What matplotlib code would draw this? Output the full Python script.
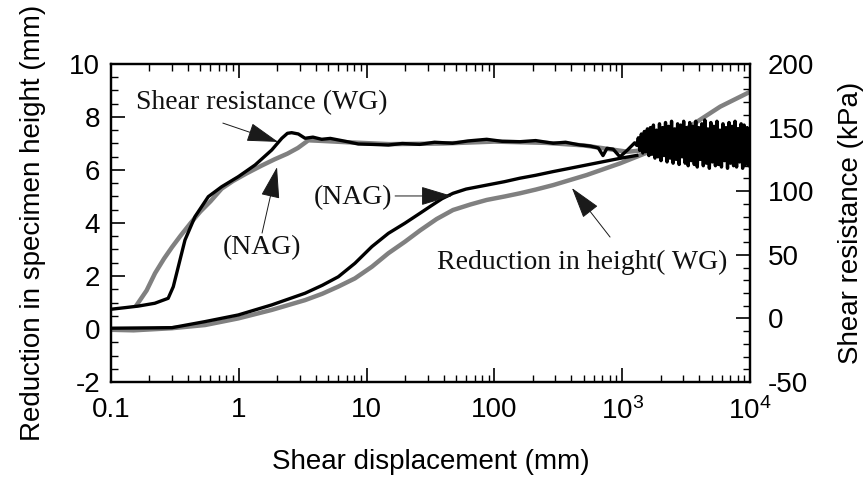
import numpy as np
import matplotlib
matplotlib.use("Agg")
import matplotlib.pyplot as plt
from matplotlib.ticker import FixedLocator, FixedFormatter, MultipleLocator, LogLocator, NullFormatter

plt.rcParams['font.family'] = ['Liberation Sans', 'DejaVu Sans']
plt.rcParams['mathtext.fontset'] = 'custom'
plt.rcParams['mathtext.rm'] = 'Liberation Sans'
plt.rcParams['axes.unicode_minus'] = False

# shear resistance, NAG (black, kPa)
shear_nag_x = [0.1, 0.13, 0.164, 0.22, 0.28, 0.307, 0.336, 0.379, 0.454, 0.577, 0.734, 0.99,
               1.34, 1.81, 2.17, 2.4, 2.59, 2.92, 3.3, 3.8, 4.45, 5.2, 6.0, 7.0, 8.6, 11,
               14.8, 19, 26, 34, 47, 62, 87, 115, 158, 210, 288, 360, 468, 560, 650, 707,
               760, 850, 959, 1100, 1250]
shear_nag_y = [7.2, 8.5, 9.7, 11.9, 15.8, 24.9, 40.6, 61.6, 80, 95.7, 103.5, 111.4,
               120.6, 132.4, 141.6, 145.5, 146, 145, 141.6, 142.5, 140.8, 141.5, 140.3, 139, 137.1, 136.8,
               136.3, 137.5, 136.8, 138.5, 137.7, 139.5, 140.8, 139.2, 138.9, 139.8, 137.7, 138.5, 136.3, 135.5, 134, 128,
               133.7, 133, 127, 132.4, 138]
# noisy tail of the NAG shear resistance
noise_x = [1300, 1336, 1373, 1411, 1450, 1490, 1531, 1573, 1617, 1661,
           1707, 1754, 1803, 1853, 1904, 1956, 2010, 2066, 2123, 2181,
           2242, 2304, 2367, 2432, 2500, 2569, 2640, 2712, 2787, 2864,
           2943, 3025, 3108, 3194, 3282, 3373, 3466, 3561, 3660, 3761,
           3865, 3971, 4081, 4194, 4309, 4428, 4551, 4676, 4805, 4938,
           5075, 5215, 5359, 5507, 5659, 5815, 5976, 6141, 6310, 6485,
           6664, 6848, 7037, 7231, 7431, 7636, 7847, 8064, 8287, 8516,
           8751, 8992, 9241, 9496, 9758, 10000]
noise_y = [136, 142, 132, 145, 130, 147, 131, 149, 128, 150,
           129, 152, 126, 148, 127, 153, 124, 150, 128, 154,
           123, 151, 126, 155, 122, 149, 125, 153, 121, 152,
           127, 155, 122, 150, 120, 154, 124, 151, 121, 155,
           119, 150, 125, 153, 120, 156, 122, 149, 118, 154,
           123, 151, 120, 155, 121, 148, 119, 153, 124, 150,
           118, 154, 122, 151, 120, 155, 119, 149, 123, 153,
           118, 152, 121, 150, 120, 146]

# shear resistance, WG (gray, kPa)
shear_wg_x = [0.16, 0.19, 0.221, 0.26, 0.3, 0.35, 0.42, 0.5, 0.6, 0.734, 0.9, 1.15, 1.5, 1.9,
              2.4, 2.9, 3.5, 4.5, 7, 15, 40, 100, 250, 500, 800, 1100, 1400]
shear_wg_y = [11, 22, 35.5, 47, 56, 65, 75, 84, 92, 102, 108, 114, 120, 125,
              129.5, 134, 140, 139.5, 138.5, 137, 137.5, 139, 138, 136, 133, 131, 132]

# reduction in height, WG (gray, mm)
red_wg_x = [0.1, 0.15, 0.3, 0.545, 0.99, 1.81, 3.3, 4.5, 6.0, 8.1, 11, 14.8, 19.9, 26.2, 35.3,
            47.4, 65, 87, 120, 158, 210, 288, 527, 961, 1750, 3200, 5840, 10000]
red_wg_y = [-0.03, -0.05, 0.03, 0.15, 0.40, 0.72, 1.09, 1.33, 1.60, 1.91, 2.35, 2.86, 3.29, 3.72, 4.15,
            4.49, 4.70, 4.87, 5.0, 5.12, 5.26, 5.43, 5.81, 6.25, 6.75, 7.57, 8.39, 8.95]

# reduction in height, NAG (black, mm)
red_nag_x = [0.1, 0.3, 0.545, 0.99, 1.81, 3.3, 4.5, 6.0, 8.1, 11, 14.8, 19.9, 26.2, 32, 39,
             47.4, 60, 87, 120, 158, 210, 288, 527, 961, 1300]
red_nag_y = [0.03, 0.05, 0.28, 0.53, 0.91, 1.35, 1.65, 1.97, 2.48, 3.11, 3.61, 3.99, 4.37, 4.65, 4.92,
             5.12, 5.28, 5.43, 5.56, 5.69, 5.8, 5.94, 6.19, 6.44, 6.55]

x_ticks = [0.1, 1, 10, 100, 1000, 10000]
x_labels = ['0.1', '1', '10', '100', r'$\mathregular{10^3}$', r'$\mathregular{10^4}$']

fig = plt.figure(figsize=(8.68, 4.79), dpi=100)
ax1 = fig.add_axes([0.1279, 0.2025, 0.7362, 0.6639])
ax2 = ax1.twinx()

gray = '#808080'
ax1.plot(red_wg_x, red_wg_y, color=gray, lw=3.2, zorder=2)
ax1.plot(red_nag_x, red_nag_y, color='black', lw=2.4, zorder=3)
ax2.plot(shear_wg_x, shear_wg_y, color=gray, lw=3.2, zorder=2)
ax2.plot(shear_nag_x + noise_x, shear_nag_y + noise_y, color='black', lw=2.4, zorder=3)

ax1.set_xscale('log')
ax1.set_xlim(0.1, 10000)
ax1.set_ylim(-2, 10)
ax2.set_ylim(-50, 200)

ax1.xaxis.set_major_locator(FixedLocator(x_ticks))
ax1.xaxis.set_major_formatter(FixedFormatter(x_labels))
ax1.xaxis.set_minor_locator(LogLocator(base=10, subs=np.arange(2, 10), numticks=20))
ax1.xaxis.set_minor_formatter(NullFormatter())
ax1.yaxis.set_major_locator(MultipleLocator(2))
ax1.yaxis.set_minor_locator(MultipleLocator(0.5))
ax2.yaxis.set_major_locator(MultipleLocator(50))
ax2.yaxis.set_minor_locator(MultipleLocator(10))

ax1.tick_params(axis='x', which='both', direction='in', top=True, labelsize=20, pad=11)
ax1.tick_params(axis='y', which='both', direction='in', right=False, labelsize=20, pad=8)
ax2.tick_params(axis='y', which='both', direction='in', labelsize=20, pad=13)
for ax in (ax1, ax2):
    ax.tick_params(which='major', length=10, width=1.2)
    ax.tick_params(which='minor', length=5, width=1.0)
    for s in ax.spines.values():
        s.set_linewidth(1.6)

ax1.set_xlabel('Shear displacement (mm)', fontsize=20)
ax1.set_ylabel('Reduction in specimen height (mm)', fontsize=20)
ax2.set_ylabel('Shear resistance (kPa)', fontsize=20)
ax1.xaxis.set_label_coords(0.5, -0.252)
ax1.xaxis.label.set_va('center')
ax1.yaxis.set_label_coords(-0.122, 0.5)
ax1.yaxis.label.set_va('center')
ax2.yaxis.set_label_coords(1.158, 0.5)
ax2.yaxis.label.set_va('center')

serif = ['Liberation Serif', 'DejaVu Serif']
arrow = dict(arrowstyle='-|>,head_length=1.0,head_width=0.3', mutation_scale=20,
             color='#1a1a1a', lw=0.7, shrinkA=0, shrinkB=0)
txt = dict(family=serif, fontsize=20, ha='center', va='center', color='#111111', zorder=5)

ax1.text(1.52, 8.53, 'Shear resistance (WG)', **txt)
ax1.annotate('', xy=(2.03, 7.06), xytext=(0.75, 7.77), arrowprops=arrow, zorder=5)

ax1.text(1.52, 3.09, '(NAG)', **txt)
ax1.annotate('', xy=(1.99, 6.11), xytext=(1.52, 3.62), arrowprops=arrow, zorder=5)

ax1.text(7.83, 4.94, '(NAG)', **txt)
ax1.annotate('', xy=(46.6, 5.02), xytext=(16.7, 5.02), arrowprops=arrow, zorder=5)

ax1.text(484, 2.53, 'Reduction in height( WG)', **txt)
ax1.annotate('', xy=(404, 5.32), xytext=(803, 3.47), arrowprops=arrow, zorder=5)

fig.savefig('out.png', dpi=100)
